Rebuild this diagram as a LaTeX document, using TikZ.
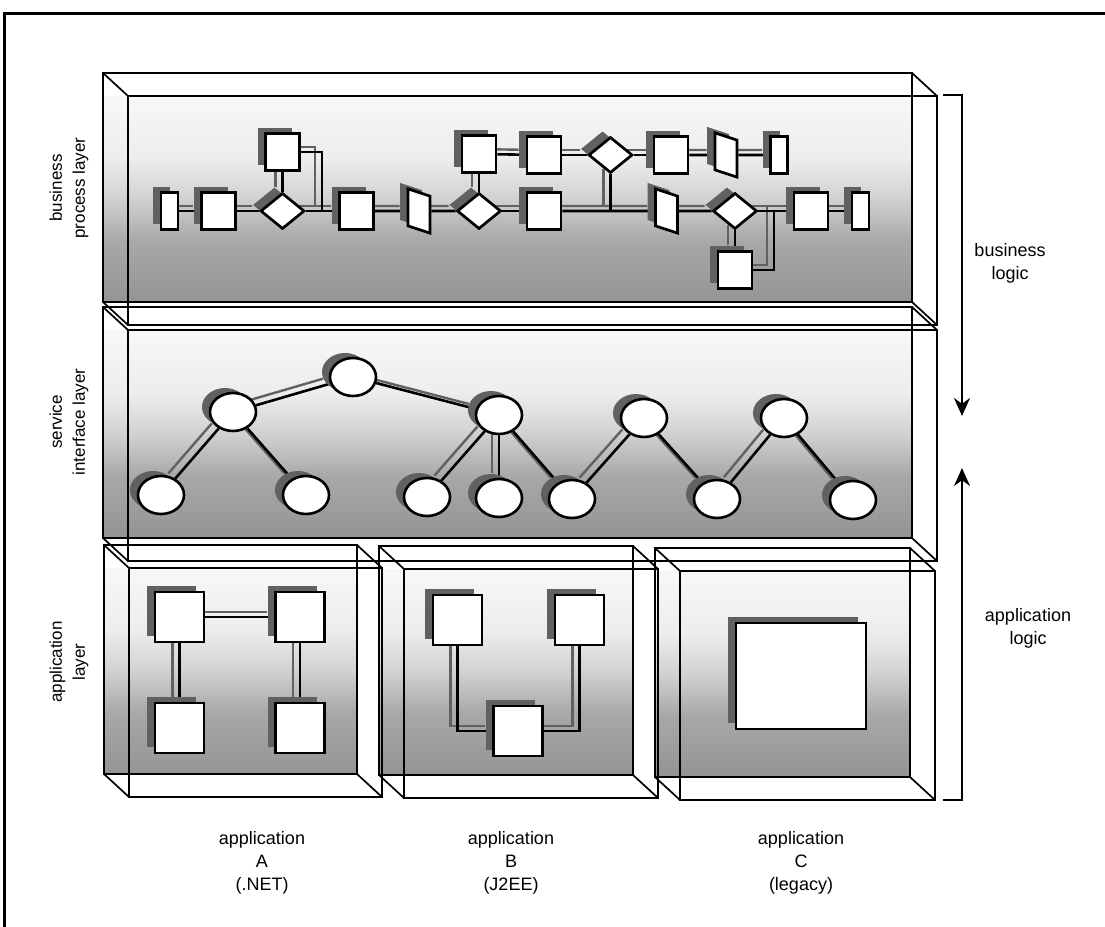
\documentclass[tikz,border=0pt]{standalone}
\usepackage{fontspec}
\setmainfont{Liberation Sans}
\usetikzlibrary{shapes.geometric,shadows,arrows.meta}
\pgfdeclarelayer{fill}
\pgfdeclarelayer{outline}
\pgfdeclarelayer{shad}
\pgfdeclarelayer{conn}
\pgfsetlayers{fill,outline,shad,conn,main}
\pgfdeclareverticalshading{layerfill}{100bp}{color(0bp)=(black!42); color(25bp)=(black!42); color(40bp)=(black!34); color(50bp)=(black!18); color(60bp)=(black!7); color(75bp)=(black!3); color(100bp)=(black!3)}
\tikzset{
 boxline/.style={line width=1.7pt, line join=miter},
 nshadow/.style={drop shadow={shadow xshift=-8pt, shadow yshift=6pt, fill=black!62, opacity=1}},
 sq/.style={rectangle, draw, fill=white, line width=2.7pt, inner sep=0pt, minimum width=34pt, minimum height=37pt, nshadow},
 smallrect/.style={sq, minimum width=17pt},
 dia/.style={diamond, draw, fill=white, line width=2.7pt, inner sep=0pt, minimum width=44pt, minimum height=36pt, nshadow},
 pgram/.style={sq, minimum width=22pt, yslant=-0.33},
 svc/.style={ellipse, draw, fill=white, line width=2.6pt, inner sep=0pt, minimum width=46pt, minimum height=38pt, drop shadow={shadow xshift=-8pt, shadow yshift=5pt, fill=black!62, opacity=1}},
 appbox/.style={sq, minimum width=49pt, minimum height=50pt},
 cline/.style={line width=2.6pt},
 cshadow/.style={line width=2.4pt, draw=black!62, transform canvas={xshift=-7pt,yshift=5pt}},
 lbl/.style={font=\fontsize{18}{23}\selectfont, align=center, inner sep=0pt},
 side/.style={font=\fontsize{17}{23}\selectfont, align=center, inner sep=0pt, rotate=90},
 arrowline/.style={line width=2.3pt, -{Stealth[length=18pt,width=16pt]}},
}
\newcommand\layerbox[4]{%
 \begin{pgfonlayer}{fill}
  \shade[shading=layerfill] (#1,#2+23) rectangle (#3,#4);
 \end{pgfonlayer}
 \begin{pgfonlayer}{outline}
  \draw[boxline] (#1,#2) rectangle (#3,#4);
  \draw[boxline] (#1+25,#2+23) rectangle (#3+25,#4+23);
  \draw[boxline] (#1,#2) -- (#1+25,#2+23) (#3,#2) -- (#3+25,#2+23)
                 (#1,#4) -- (#1+25,#4+23) (#3,#4) -- (#3+25,#4+23);
 \end{pgfonlayer}}
\newcommand\lnk[1]{%
 \begin{pgfonlayer}{shad}\draw[cshadow] #1;\end{pgfonlayer}%
 \begin{pgfonlayer}{conn}\draw[cline] #1;\end{pgfonlayer}}
\begin{document}
\begin{tikzpicture}[x=1pt,y=-1pt]
\useasboundingbox (0,0) rectangle (1105,926);
\draw[line width=3pt] (1106,13) -- (4,13) -- (4,927);

% layer boxes
\layerbox{103}{73}{912}{302}
\layerbox{103}{307}{912}{538}
\layerbox{104}{545}{357}{774}
\layerbox{379}{546}{633}{775}
\layerbox{655}{548}{910}{777}

% business process layer
\node[smallrect] (R1) at (169.5,211) {};
\node[sq] (S1) at (218.5,211) {};
\node[dia] (D1) at (282.5,211) {};
\node[sq] (S2) at (282.5,152) {};
\node[sq] (S3) at (356.5,211) {};
\node[pgram] (P1) at (419,211) {};
\node[dia] (D2) at (479,211) {};
\node[sq] (S4) at (479,154) {};
\node[sq] (S5) at (544,155) {};
\node[sq] (S6) at (544,211) {};
\node[dia] (D3) at (610.5,155) {};
\node[sq] (S7) at (671,155) {};
\node[pgram] (P2) at (726,155) {};
\node[smallrect] (R2) at (779,155) {};
\node[pgram] (P3) at (666.5,211) {};
\node[dia] (D4) at (735,211) {};
\node[sq] (S8) at (735,270) {};
\node[sq] (S9) at (811,211) {};
\node[smallrect] (R3) at (860.5,211) {};
\coordinate (J1) at (610.5,211);
\coordinate (K1) at (322,211);
\coordinate (K2) at (774,211);

\lnk{(R1) -- (S1)}
\lnk{(S1) -- (D1)}
\lnk{(D1) -- (S3)}
\lnk{(S3) -- (P1)}
\lnk{(P1) -- (D2)}
\lnk{(D2) -- (S6)}
\lnk{(S6) -- (P3)}
\lnk{(P3) -- (D4)}
\lnk{(D4) -- (S9)}
\lnk{(S9) -- (R3)}
\lnk{(S2) -- (D1)}
\lnk{(S2.east) -| (K1)}
\lnk{(S4) -- (D2)}
\lnk{(S4) -- (S5)}
\lnk{(S5) -- (D3)}
\lnk{(D3) -- (S7)}
\lnk{(S7) -- (P2)}
\lnk{(P2) -- (R2)}
\lnk{(D3) -- (J1)}
\lnk{(D4) -- (S8)}
\lnk{(K2) |- (S8.east)}

% service interface layer
\node[svc] (C1) at (353,377) {};
\node[svc] (C2) at (233,412) {};
\node[svc] (C3) at (161,495) {};
\node[svc] (C4) at (306,495) {};
\node[svc] (C5) at (499,415) {};
\node[svc] (C6) at (427,497) {};
\node[svc] (C7) at (499,498) {};
\node[svc] (C8) at (572,499) {};
\node[svc] (C9) at (644,418) {};
\node[svc] (C10) at (717,499) {};
\node[svc] (C11) at (784,418) {};
\node[svc] (C12) at (853,500) {};
\lnk{(C3) -- (C2)}
\lnk{(C2) -- (C4)}
\lnk{(C2) -- (C1)}
\lnk{(C1) -- (C5)}
\lnk{(C5) -- (C6)}
\lnk{(C5) -- (C7)}
\lnk{(C5) -- (C8)}
\lnk{(C8) -- (C9)}
\lnk{(C9) -- (C10)}
\lnk{(C10) -- (C11)}
\lnk{(C11) -- (C12)}

% application layer
\node[appbox] (A1) at (179.5,617) {};
\node[appbox] (A2) at (300,617) {};
\node[appbox] (A3) at (179.5,728) {};
\node[appbox] (A4) at (300,728) {};
\lnk{(A1) -- (A2)}
\lnk{(A1) -- (A3)}
\lnk{(A2) -- (A4)}
\node[appbox] (B1) at (457.5,620) {};
\node[appbox] (B2) at (579.5,620) {};
\node[appbox] (B3) at (518,731) {};
\lnk{(B1.south) |- (B3.west)}
\lnk{(B2.south) |- (B3.east)}
\node[sq, minimum width=130pt, minimum height=106pt] (L) at (801,676) {};

% labels
\node[side] (tBP) at (69,188) {business\\process layer};
\node[side] (tSI) at (69,422) {service\\interface layer};
\node[side] (tAL) at (69,662) {application\\layer};
\node[lbl] (tA) at (262,863) {application\\A\\(.NET)};
\node[lbl] (tB) at (511,863) {application\\B\\(J2EE)};
\node[lbl] (tC) at (801,863) {application\\C\\(legacy)};
\node[lbl] (tBL) at (1010,263) {business\\logic};
\node[lbl] (tALg) at (1028,628) {application\\logic};

% logic brackets
\coordinate (bt0) at (943,95);
\coordinate (bt1) at (962,95);
\coordinate (bt2) at (962,416);
\draw[arrowline] (bt0) -- (bt1) -- (bt2);
\coordinate (bb0) at (943,800);
\coordinate (bb1) at (962,800);
\coordinate (bb2) at (962,468);
\draw[arrowline] (bb0) -- (bb1) -- (bb2);
\end{tikzpicture}
\end{document}
